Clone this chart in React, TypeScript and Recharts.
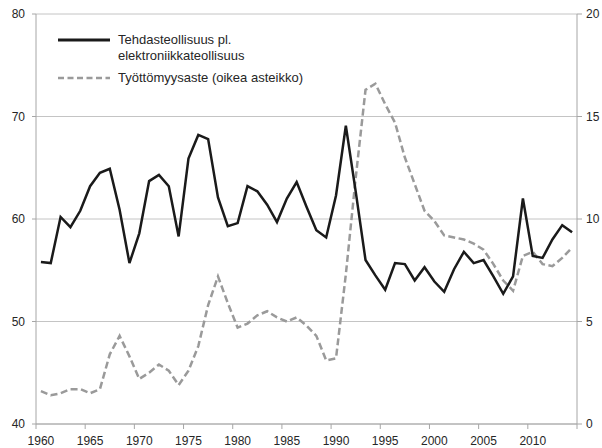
import { CartesianGrid, Line, LineChart, XAxis, YAxis } from "recharts";

const years = [
  1960, 1961, 1962, 1963, 1964, 1965, 1966, 1967, 1968, 1969,
  1970, 1971, 1972, 1973, 1974, 1975, 1976, 1977, 1978, 1979,
  1980, 1981, 1982, 1983, 1984, 1985, 1986, 1987, 1988, 1989,
  1990, 1991, 1992, 1993, 1994, 1995, 1996, 1997, 1998, 1999,
  2000, 2001, 2002, 2003, 2004, 2005, 2006, 2007, 2008, 2009,
  2010, 2011, 2012, 2013, 2014,
];

// Tehdasteollisuus pl. elektroniikkateollisuus (vasen asteikko)
const manufacturing = [
  55.8, 55.7, 60.2, 59.2, 60.8, 63.2, 64.5, 64.9, 60.9, 55.7,
  58.6, 63.7, 64.3, 63.2, 58.3, 65.9, 68.2, 67.8, 62.1, 59.3,
  59.6, 63.2, 62.7, 61.4, 59.7, 62.0, 63.6, 61.2, 58.9, 58.2,
  62.3, 69.1, 62.7, 56.0, 54.5, 53.1, 55.7, 55.6, 54.0, 55.3,
  53.9, 52.9, 55.1, 56.8, 55.7, 56.0, 54.4, 52.7, 54.4, 62.0,
  56.4, 56.2, 58.0, 59.4, 58.7,
];

// Työttömyysaste (oikea asteikko)
const unemployment = [
  1.6, 1.4, 1.5, 1.7, 1.7, 1.5, 1.7, 3.4, 4.3, 3.3,
  2.2, 2.5, 2.9, 2.6, 1.9, 2.6, 3.8, 5.8, 7.2, 5.9,
  4.7, 4.9, 5.3, 5.5, 5.2, 5.0, 5.2, 4.8, 4.3, 3.1,
  3.2, 7.3, 12.0, 16.3, 16.6, 15.6, 14.7, 13.0, 11.7, 10.4,
  9.9, 9.2, 9.1, 9.0, 8.8, 8.5, 7.8, 7.0, 6.5, 8.2,
  8.4, 7.8, 7.7, 8.1, 8.6,
];

const leftTicks = [40, 50, 60, 70, 80];
const rightTicks = [0, 5, 10, 15, 20];

const data = years.map((year, i) => ({
  year,
  manufacturing: manufacturing[i],
  unemployment: unemployment[i],
}));

const W = 602;
const H = 448;
const PLOT_LEFT = 36;
const PLOT_RIGHT = 577;
const PLOT_TOP = 14;
const PLOT_BOTTOM = 424;
const band = (PLOT_RIGHT - PLOT_LEFT) / years.length;

const FONT = "'Liberation Sans', Arial, sans-serif";
const AXIS = "#a6a6a6";
const GRID = "#c4c4c4";
const TEXT = "#262626";

function YearTick(props: any) {
  const { x, y, payload } = props;
  const left = x - band / 2;
  return (
    <g>
      <line x1={left} x2={left} y1={y} y2={y + 5} stroke={AXIS} />
      {payload.value === 2010 && (
        <line x1={left + 5 * band} x2={left + 5 * band} y1={y} y2={y + 5} stroke={AXIS} />
      )}
      <text x={x} y={y + 21} textAnchor="middle" fontSize={12} fontFamily={FONT} fill={TEXT}>
        {payload.value}
      </text>
    </g>
  );
}

export default function App() {
  return (
    <div style={{ position: "absolute", left: 0, top: 0, width: W, height: H, background: "#fff" }}>
      <LineChart
        width={W}
        height={H}
        data={data}
        margin={{ top: PLOT_TOP, right: 0, bottom: 0, left: 0 }}
      >
        <CartesianGrid yAxisId="left" vertical={false} stroke={GRID} />
        <XAxis
          dataKey="year"
          type="category"
          scale="band"
          interval={4}
          height={H - PLOT_BOTTOM}
          tickSize={0}
          tickMargin={0}
          tickLine={false}
          stroke={AXIS}
          tick={<YearTick />}
        />
        <YAxis
          yAxisId="left"
          orientation="left"
          domain={[40, 80]}
          ticks={leftTicks}
          width={PLOT_LEFT}
          tickSize={4}
          tickMargin={7}
          stroke={AXIS}
          tick={{ fontSize: 12, fontFamily: FONT, fill: TEXT }}
        />
        <YAxis
          yAxisId="right"
          orientation="right"
          domain={[0, 20]}
          ticks={rightTicks}
          width={W - PLOT_RIGHT}
          tickSize={5}
          tickMargin={4}
          stroke={AXIS}
          tick={{ fontSize: 12, fontFamily: FONT, fill: TEXT, textAnchor: "start" }}
        />
        <Line
          yAxisId="right"
          dataKey="unemployment"
          type="linear"
          stroke="#9a9a9a"
          strokeWidth={2.5}
          strokeDasharray="7 3.5"
          dot={false}
          activeDot={false}
          isAnimationActive={false}
        />
        <Line
          yAxisId="left"
          dataKey="manufacturing"
          type="linear"
          stroke="#1a1a1a"
          strokeWidth={2.5}
          dot={false}
          activeDot={false}
          isAnimationActive={false}
        />
      </LineChart>
      <div style={{ position: "absolute", left: 0, top: 0, fontFamily: FONT, fontSize: 13, color: TEXT }}>
        <svg width={120} height={100} style={{ position: "absolute", left: 0, top: 0 }}>
          <line x1={58} x2={110} y1={40} y2={40} stroke="#1a1a1a" strokeWidth={3} />
          <line x1={58} x2={110} y1={78} y2={78} stroke="#9a9a9a" strokeWidth={2.5} strokeDasharray="6 3.5" />
        </svg>
        <div style={{ position: "absolute", left: 118, top: 32, lineHeight: "16px", whiteSpace: "nowrap" }}>
          Tehdasteollisuus pl.
          <br />
          elektroniikkateollisuus
        </div>
        <div style={{ position: "absolute", left: 118, top: 70, lineHeight: "16px", whiteSpace: "nowrap" }}>
          Työttömyysaste (oikea asteikko)
        </div>
      </div>
    </div>
  );
}
